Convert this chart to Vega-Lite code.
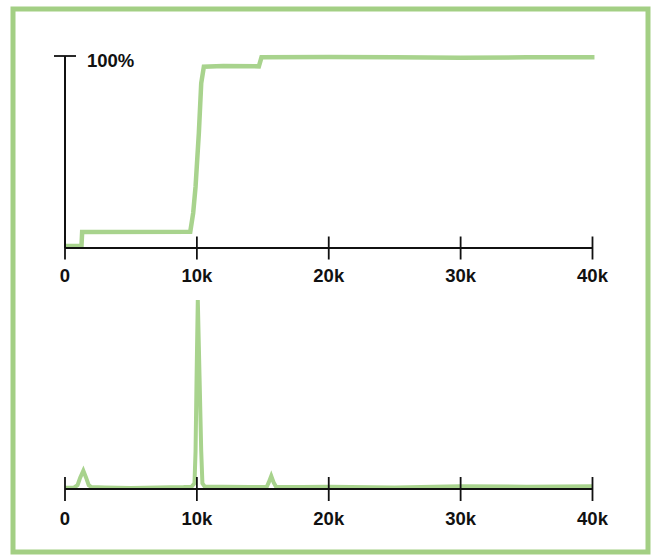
{
  "$schema": "https://vega.github.io/schema/vega-lite/v6.json",
  "width": 635,
  "height": 543,
  "autosize": {"type": "none"},
  "padding": {"left": 13, "top": 9, "right": 6, "bottom": 5},
  "background": "white",
  "config": {"view": {"stroke": "#a3cf84", "strokeWidth": 5}},
  "datasets": {
    "cum": [
      {"f": 0, "p": 1}, {"f": 1250, "p": 1}, {"f": 1300, "p": 8.3}, {"f": 9500, "p": 8.5},
      {"f": 9720, "p": 18.2}, {"f": 9900, "p": 31.9}, {"f": 10150, "p": 59.9}, {"f": 10330, "p": 85.8},
      {"f": 10530, "p": 94.4}, {"f": 12000, "p": 94.8}, {"f": 14700, "p": 94.6}, {"f": 14900, "p": 99.3},
      {"f": 20000, "p": 99.5}, {"f": 25000, "p": 99.4}, {"f": 30000, "p": 99.1}, {"f": 35000, "p": 99.3},
      {"f": 40150, "p": 99.4}
    ],
    "spec": [
      {"f": 0, "a": 0.6}, {"f": 700, "a": 0.8}, {"f": 950, "a": 2}, {"f": 1150, "a": 6}, {"f": 1390, "a": 9.7},
      {"f": 1600, "a": 6}, {"f": 1800, "a": 2}, {"f": 2000, "a": 1}, {"f": 3000, "a": 0.8}, {"f": 5000, "a": 0.5},
      {"f": 7000, "a": 0.8}, {"f": 9000, "a": 1}, {"f": 9600, "a": 1.2}, {"f": 9820, "a": 3}, {"f": 9900, "a": 20},
      {"f": 9980, "a": 60}, {"f": 10070, "a": 100}, {"f": 10200, "a": 60}, {"f": 10330, "a": 20}, {"f": 10420, "a": 3},
      {"f": 10600, "a": 1.2}, {"f": 12000, "a": 1.2}, {"f": 14000, "a": 1}, {"f": 15300, "a": 1.2}, {"f": 15450, "a": 3.5},
      {"f": 15640, "a": 6.9}, {"f": 15820, "a": 3.5}, {"f": 16000, "a": 1.2}, {"f": 18000, "a": 1}, {"f": 20000, "a": 1.2},
      {"f": 25000, "a": 0.8}, {"f": 30000, "a": 1.5}, {"f": 35000, "a": 1.2}, {"f": 40000, "a": 1.5}
    ],
    "ticks": [
      {"f": 0, "label": "0"}, {"f": 10000, "label": "10k"}, {"f": 20000, "label": "20k"},
      {"f": 30000, "label": "30k"}, {"f": 40000, "label": "40k"}
    ],
    "span": [{"f0": 0, "f1": 40000, "p0": 0, "p1": 100}],
    "ytick": [{"f": 0, "p": 100, "label": "100%"}]
  },
  "layer": [
    {
      "layer": [
        {
          "data": {"name": "cum"},
          "mark": {"type": "line", "color": "#a8d38d", "strokeWidth": 4.5},
          "encoding": {
            "x": {"field": "f", "type": "quantitative", "scale": {"domain": [-3943, 44209], "nice": false}, "axis": null},
            "y": {"field": "p", "type": "quantitative", "scale": {"domain": [-158.33, 124.48], "nice": false}, "axis": null}
          }
        },
        {
          "data": {"name": "span"},
          "mark": {"type": "rule", "color": "#111111", "strokeWidth": 2},
          "encoding": {
            "x": {"field": "f0", "type": "quantitative", "scale": {"domain": [-3943, 44209], "nice": false}, "axis": null},
            "x2": {"field": "f1"},
            "y": {"field": "p0", "type": "quantitative", "scale": {"domain": [-158.33, 124.48], "nice": false}, "axis": null}
          }
        },
        {
          "data": {"name": "span"},
          "mark": {"type": "rule", "color": "#111111", "strokeWidth": 2},
          "encoding": {
            "x": {"field": "f0", "type": "quantitative", "scale": {"domain": [-3943, 44209], "nice": false}, "axis": null},
            "y": {"field": "p0", "type": "quantitative", "scale": {"domain": [-158.33, 124.48], "nice": false}, "axis": null},
            "y2": {"field": "p1"}
          }
        },
        {
          "data": {"name": "ticks"},
          "mark": {"type": "tick", "orient": "vertical", "color": "#111111", "size": 23, "thickness": 1.8, "opacity": 1},
          "encoding": {
            "x": {"field": "f", "type": "quantitative", "scale": {"domain": [-3943, 44209], "nice": false}, "axis": null},
            "y": {"datum": 0, "type": "quantitative", "scale": {"domain": [-158.33, 124.48], "nice": false}, "axis": null}
          }
        },
        {
          "data": {"name": "ticks"},
          "mark": {"type": "text", "color": "#111111", "font": "Liberation Sans", "fontWeight": "bold", "fontSize": 18.5, "align": "center", "baseline": "alphabetic", "dy": 34},
          "encoding": {
            "x": {"field": "f", "type": "quantitative", "scale": {"domain": [-3943, 44209], "nice": false}, "axis": null},
            "y": {"datum": 0, "type": "quantitative", "scale": {"domain": [-158.33, 124.48], "nice": false}, "axis": null},
            "text": {"field": "label"}
          }
        },
        {
          "data": {"name": "ytick"},
          "mark": {"type": "tick", "orient": "horizontal", "color": "#111111", "size": 22, "thickness": 1.8, "opacity": 1},
          "encoding": {
            "x": {"field": "f", "type": "quantitative", "scale": {"domain": [-3943, 44209], "nice": false}, "axis": null},
            "y": {"field": "p", "type": "quantitative", "scale": {"domain": [-158.33, 124.48], "nice": false}, "axis": null}
          }
        },
        {
          "data": {"name": "ytick"},
          "mark": {"type": "text", "color": "#111111", "font": "Liberation Sans", "fontWeight": "bold", "fontSize": 18.5, "align": "left", "baseline": "alphabetic", "dx": 22, "dy": 10.5},
          "encoding": {
            "x": {"field": "f", "type": "quantitative", "scale": {"domain": [-3943, 44209], "nice": false}, "axis": null},
            "y": {"field": "p", "type": "quantitative", "scale": {"domain": [-158.33, 124.48], "nice": false}, "axis": null},
            "text": {"field": "label"}
          }
        }
      ]
    },
    {
      "layer": [
        {
          "data": {"name": "spec"},
          "mark": {"type": "line", "color": "#a8d38d", "strokeWidth": 4},
          "encoding": {
            "x": {"field": "f", "type": "quantitative", "scale": {"domain": [-3943, 44209], "nice": false}, "axis": null},
            "y": {"field": "a", "type": "quantitative", "scale": {"domain": [-33.33, 253.97], "nice": false}, "axis": null}
          }
        },
        {
          "data": {"name": "span"},
          "mark": {"type": "rule", "color": "#111111", "strokeWidth": 2},
          "encoding": {
            "x": {"field": "f0", "type": "quantitative", "scale": {"domain": [-3943, 44209], "nice": false}, "axis": null},
            "x2": {"field": "f1"},
            "y": {"field": "p0", "type": "quantitative", "scale": {"domain": [-33.33, 253.97], "nice": false}, "axis": null}
          }
        },
        {
          "data": {"name": "ticks"},
          "mark": {"type": "tick", "orient": "vertical", "color": "#111111", "size": 24, "thickness": 1.8, "opacity": 1},
          "encoding": {
            "x": {"field": "f", "type": "quantitative", "scale": {"domain": [-3943, 44209], "nice": false}, "axis": null},
            "y": {"datum": 0, "type": "quantitative", "scale": {"domain": [-33.33, 253.97], "nice": false}, "axis": null}
          }
        },
        {
          "data": {"name": "ticks"},
          "mark": {"type": "text", "color": "#111111", "font": "Liberation Sans", "fontWeight": "bold", "fontSize": 18.5, "align": "center", "baseline": "alphabetic", "dy": 36},
          "encoding": {
            "x": {"field": "f", "type": "quantitative", "scale": {"domain": [-3943, 44209], "nice": false}, "axis": null},
            "y": {"datum": 0, "type": "quantitative", "scale": {"domain": [-33.33, 253.97], "nice": false}, "axis": null},
            "text": {"field": "label"}
          }
        }
      ]
    }
  ],
  "resolve": {"scale": {"y": "independent"}}
}
